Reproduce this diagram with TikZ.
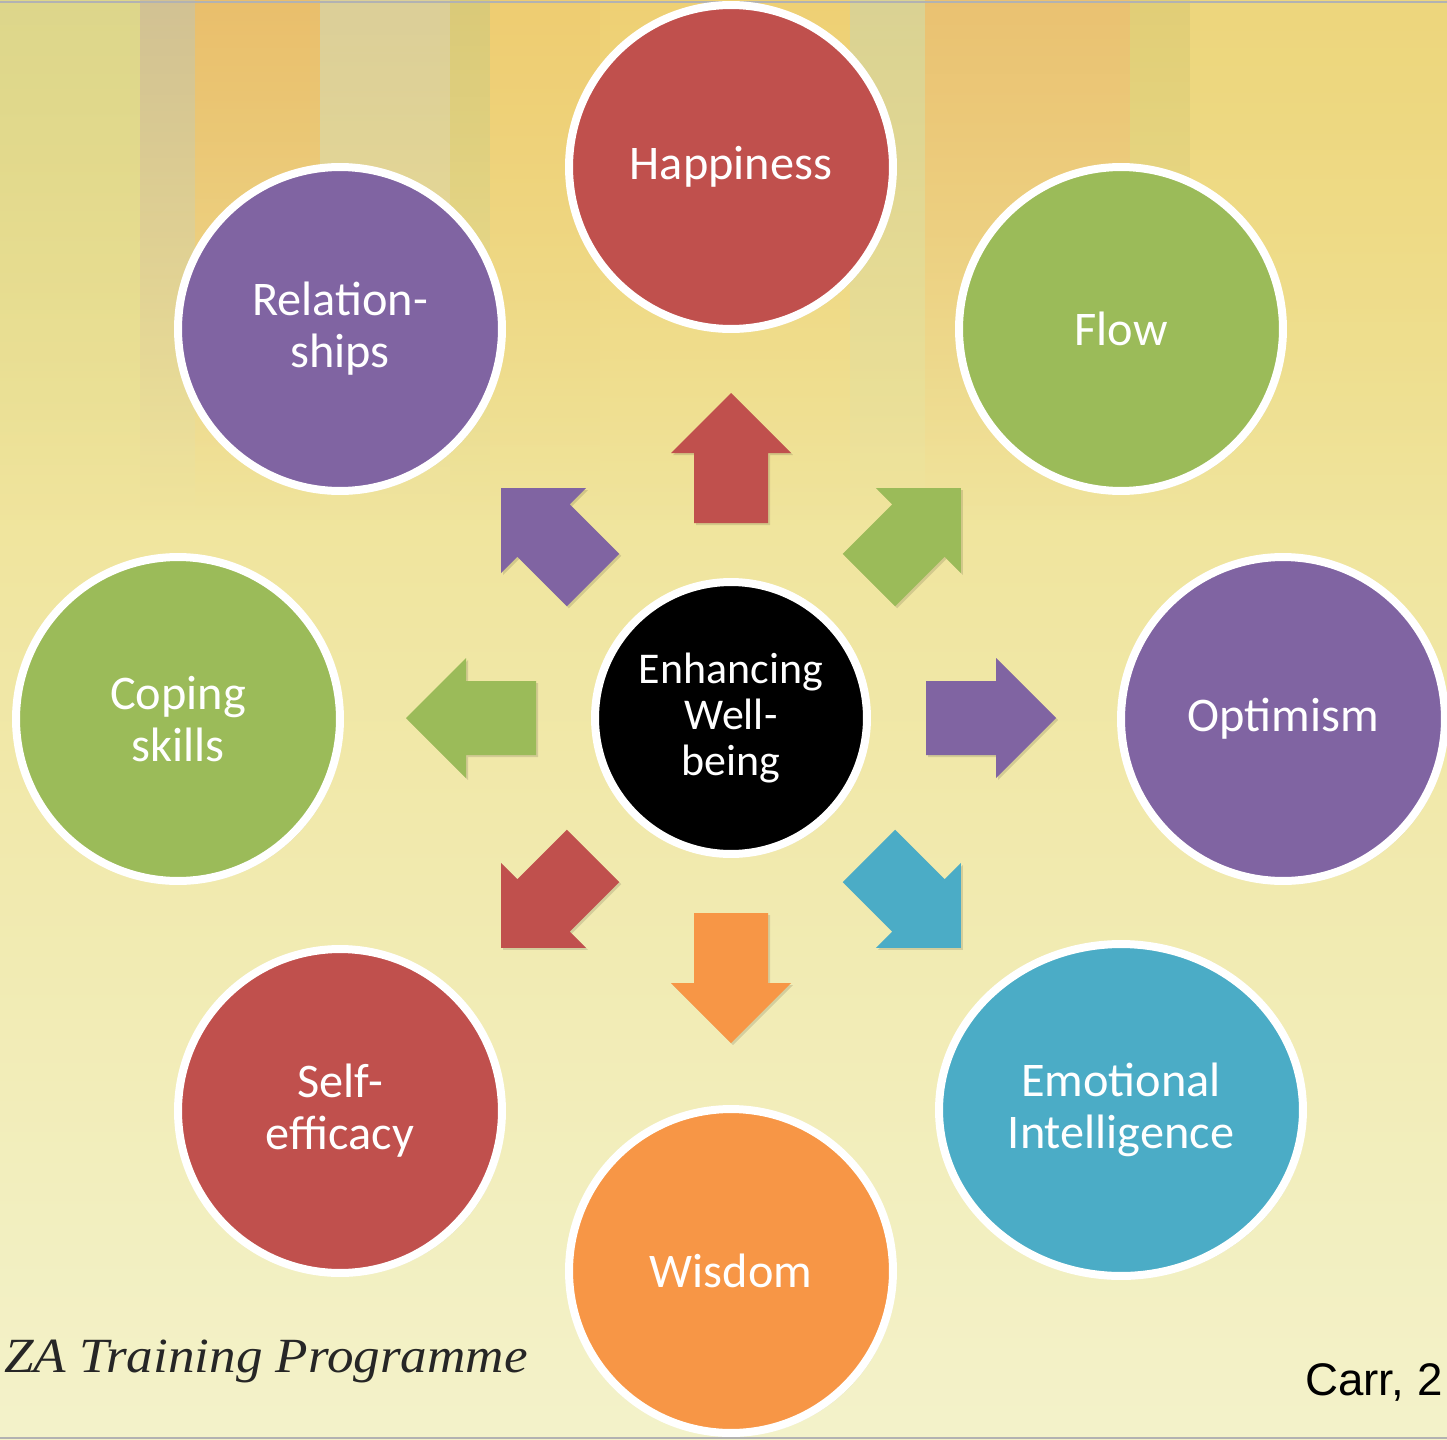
\documentclass[tikz,border=0pt]{standalone}
\usepackage{fontspec}
\newfontfamily\bubblefont{Carlito}
\newfontfamily\creditfont{Liberation Sans}
\newfontfamily\handfont{Liberation Serif}
\usetikzlibrary{shapes.geometric,shadows,fadings,positioning}
\definecolor{wbred}{HTML}{C0504D}
\definecolor{wbgreen}{HTML}{9BBB59}
\definecolor{wbpurple}{HTML}{8064A2}
\definecolor{wbblue}{HTML}{4BACC6}
\definecolor{wborange}{HTML}{F79646}
\definecolor{bgtop}{HTML}{EEDD84}
\definecolor{bgmid}{HTML}{F1EFA2}
\definecolor{bgbottom}{HTML}{F3F2CA}
\tikzset{
    bubble/.style={circle,draw=white,line width=0.16cm,minimum size=6.48cm,inner sep=0pt,
        align=center,text=white,font=\bubblefont\fontsize{27.5}{29.5}\selectfont,
        drop shadow={shadow xshift=1.6pt,shadow yshift=-1.6pt,opacity=0.3}},
    hub/.style={bubble,fill=black,minimum size=5.44cm,font=\bubblefont\fontsize{25}{26.2}\selectfont},
    stripe/.style={fill=#1,path fading=south,opacity=0.7},
    blockarrow/.style={fill=#1},
    arrowshadow/.style={fill=black,opacity=0.12},
}
\begin{document}
\begin{tikzpicture}[x=0.02cm,y=-0.02cm]
    \useasboundingbox (0,0) rectangle (1447,1440);
    \clip (0,0) rectangle (1447,1440);
    % background
    \shade[top color=bgtop,middle color=bgmid,bottom color=bgbottom] (0,0) rectangle (1447,1440);
    \foreach \xa/\xb/\col in {0/140/D6D48E,140/195/C6B69A,195/320/E8B262,320/450/D4C9A2,
        450/490/D2C274,490/600/EEC66A,600/850/EFCB6E,850/925/D2CE9A,925/1130/E9B66A,
        1130/1190/DCC872,1190/1447/EDD37A}{
        \definecolor{stripecol}{HTML}{\col}
        \fill[stripe=stripecol] (\xa,0) rectangle (\xb,520);
    }
    \draw[gray!60,line width=0.05cm] (0,2) -- (1447,2);
    \draw[gray!60,line width=0.05cm] (0,1438) -- (1447,1438);

    \node[hub] (centre) at (731,718) {Enhancing\\Well-\\being};

    % arrows out of the centre
    \foreach \ang/\col in {90/wbred,45/wbgreen,0/wbpurple,-45/wbblue,-90/wborange,
        -135/wbred,180/wbgreen,135/wbpurple}{
        \fill[arrowshadow,shift={(733,720)},rotate=\ang]
            (195,-37) -- (265,-37) -- (265,-60) -- (325,0) -- (265,60) -- (265,37) -- (195,37) -- cycle;
        \fill[blockarrow=\col,shift={(centre.center)},rotate=\ang]
            (195,-37) -- (265,-37) -- (265,-60) -- (325,0) -- (265,60) -- (265,37) -- (195,37) -- cycle;
    }

    \node[bubble,fill=wbred] (happy) at (731,167) {Happiness};
    \node[bubble,fill=wbgreen] (flow) at (1121,329) {Flow};
    \node[bubble,fill=wbpurple] (optim) at (1283,719) {Optimism};
    \node[bubble,fill=wbblue,ellipse,minimum width=7.28cm,minimum height=6.64cm] (emoint) at (1121,1110) {Emotional\\Intelligence};
    \node[bubble,fill=wborange] (wisdom) at (731,1271) {Wisdom};
    \node[bubble,fill=wbred] (selfeff) at (340,1111) {Self-\\efficacy};
    \node[bubble,fill=wbgreen] (coping) at (178,719) {Coping\\skills};
    \node[bubble,fill=wbpurple] (relat) at (340,329) {Relation-\\ships};

    \node[anchor=base west,inner sep=0pt,font=\handfont\itshape\fontsize{28}{30}\selectfont,text=black!85] (programme) at (4,1372) {\scalebox{1.08}[1]{ZA Training Programme}};
    \node[anchor=base west,inner sep=0pt,font=\creditfont\fontsize{26}{30}\selectfont] (credit) at (1305,1395) {Carr, 2};
\end{tikzpicture}
\end{document}
